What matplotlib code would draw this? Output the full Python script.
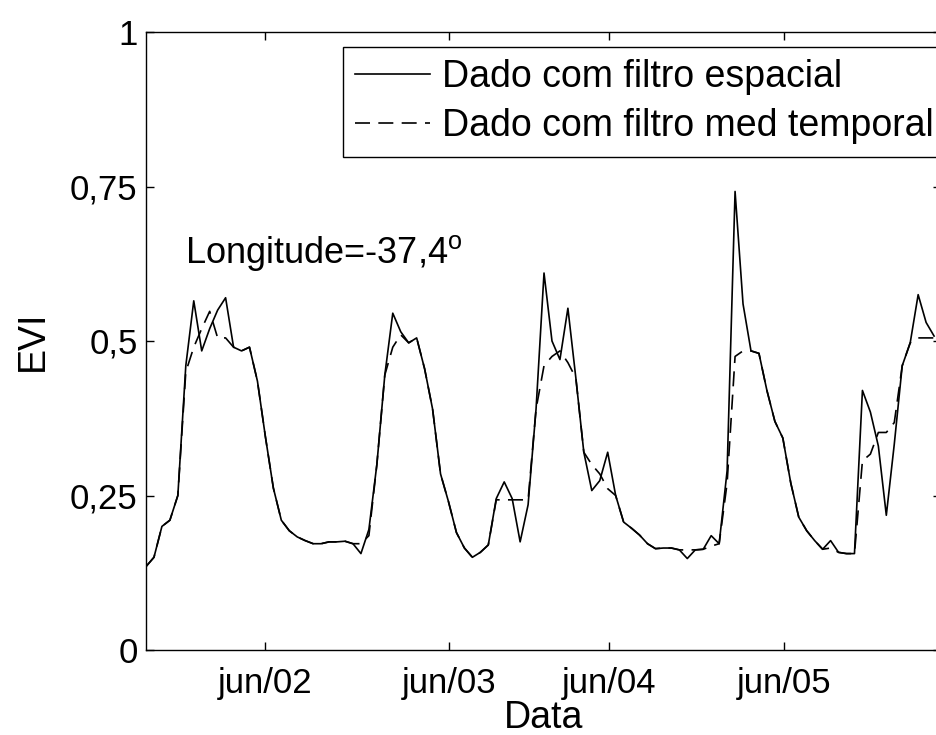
import matplotlib
matplotlib.use('Agg')
import matplotlib.pyplot as plt
import numpy as np

# EVI series (one value per 16-day composite)
spatial = [0.135, 0.15, 0.20, 0.21, 0.25, 0.46, 0.565, 0.484, 0.52, 0.55,
           0.57, 0.49, 0.484, 0.49, 0.435, 0.345, 0.262, 0.21, 0.193, 0.183,
           0.177, 0.172, 0.172, 0.175, 0.175, 0.176, 0.172, 0.156, 0.195, 0.30,
           0.445, 0.545, 0.515, 0.497, 0.505, 0.455, 0.39, 0.285, 0.24, 0.19,
           0.165, 0.15, 0.158, 0.17, 0.245, 0.272, 0.245, 0.175, 0.235, 0.39,
           0.61, 0.50, 0.47, 0.553, 0.44, 0.32, 0.258, 0.274, 0.32, 0.25,
           0.207, 0.197, 0.186, 0.172, 0.164, 0.165, 0.165, 0.162, 0.148, 0.162,
           0.163, 0.185, 0.172, 0.29, 0.742, 0.56, 0.484, 0.48, 0.42, 0.37,
           0.343, 0.27, 0.215, 0.193, 0.177, 0.163, 0.177, 0.158, 0.156, 0.156,
           0.42, 0.385, 0.33, 0.218, 0.333, 0.46, 0.497, 0.575, 0.53, 0.508]

temporal = [0.135, 0.15, 0.20, 0.21, 0.25, 0.45, 0.49, 0.52, 0.548, 0.505,
            0.505, 0.49, 0.484, 0.49, 0.435, 0.345, 0.262, 0.21, 0.193, 0.183,
            0.177, 0.172, 0.172, 0.175, 0.175, 0.176, 0.172, 0.172, 0.185, 0.30,
            0.445, 0.49, 0.51, 0.497, 0.505, 0.455, 0.39, 0.285, 0.24, 0.19,
            0.165, 0.15, 0.158, 0.17, 0.243, 0.243, 0.243, 0.243, 0.243, 0.39,
            0.46, 0.475, 0.484, 0.465, 0.44, 0.32, 0.30, 0.285, 0.261, 0.25,
            0.207, 0.197, 0.186, 0.172, 0.164, 0.165, 0.165, 0.162, 0.162, 0.162,
            0.163, 0.168, 0.172, 0.27, 0.475, 0.484, 0.484, 0.48, 0.42, 0.37,
            0.343, 0.27, 0.215, 0.193, 0.177, 0.163, 0.165, 0.158, 0.156, 0.156,
            0.306, 0.317, 0.352, 0.352, 0.368, 0.46, 0.497, 0.505, 0.505, 0.505]

xtick_pos = [14.95, 38.07, 58.17, 80.15]
xtick_labels = ['jun/02', 'jun/03', 'jun/04', 'jun/05']
ytick_vals = [0, 0.25, 0.5, 0.75, 1]
ytick_labels = ['0', '0,25', '0,5', '0,75', '1']
series_labels = ['Dado com filtro espacial', 'Dado com filtro med temporal']

plt.rcParams['font.family'] = ['Liberation Sans', 'DejaVu Sans']
plt.rcParams['mathtext.fontset'] = 'custom'
plt.rcParams['mathtext.rm'] = 'Liberation Sans'

W, H = 937, 735
fig = plt.figure(figsize=(W / 100, H / 100), dpi=100)
ax = fig.add_axes([146 / W, 85 / H, 795 / W, 618 / H])

t = np.arange(len(spatial))
ax.plot(t, spatial, color='black', lw=1.2, label=series_labels[0])
ax.plot(t, temporal, color='black', lw=1.2, ls=(0, (9, 5)), label=series_labels[1])

ax.set_xlim(0, 99.87)
ax.set_ylim(0, 1)
ax.set_xticks(xtick_pos)
ax.set_xticklabels(xtick_labels)
ax.set_yticks(ytick_vals)
ax.set_yticklabels(ytick_labels)
ax.tick_params(direction='in', length=6, width=1, top=True, right=True,
               labelsize=25, colors='black')
ax.tick_params(axis='x', pad=12)
ax.tick_params(axis='y', pad=6)
for s in ax.spines.values():
    s.set_linewidth(1.0)
    s.set_color('black')

ax.set_xlabel('Data', fontsize=27, labelpad=0)
ax.set_ylabel('EVI', fontsize=27, labelpad=14)

ax.text(4.9, 0.642, r'Longitude=-37,4$^\mathrm{o}$', fontsize=26, va='center', ha='left')

leg = ax.legend(loc='upper left', bbox_to_anchor=(343 / W, 1 - 47 / H),
                bbox_transform=fig.transFigure, fontsize=27, frameon=True,
                fancybox=False, edgecolor='black', framealpha=1,
                handlelength=2.0, handletextpad=0.32, borderpad=0.33,
                labelspacing=0.35, borderaxespad=0)
leg.get_frame().set_linewidth(1.0)

fig.savefig('out.png', dpi=100)
